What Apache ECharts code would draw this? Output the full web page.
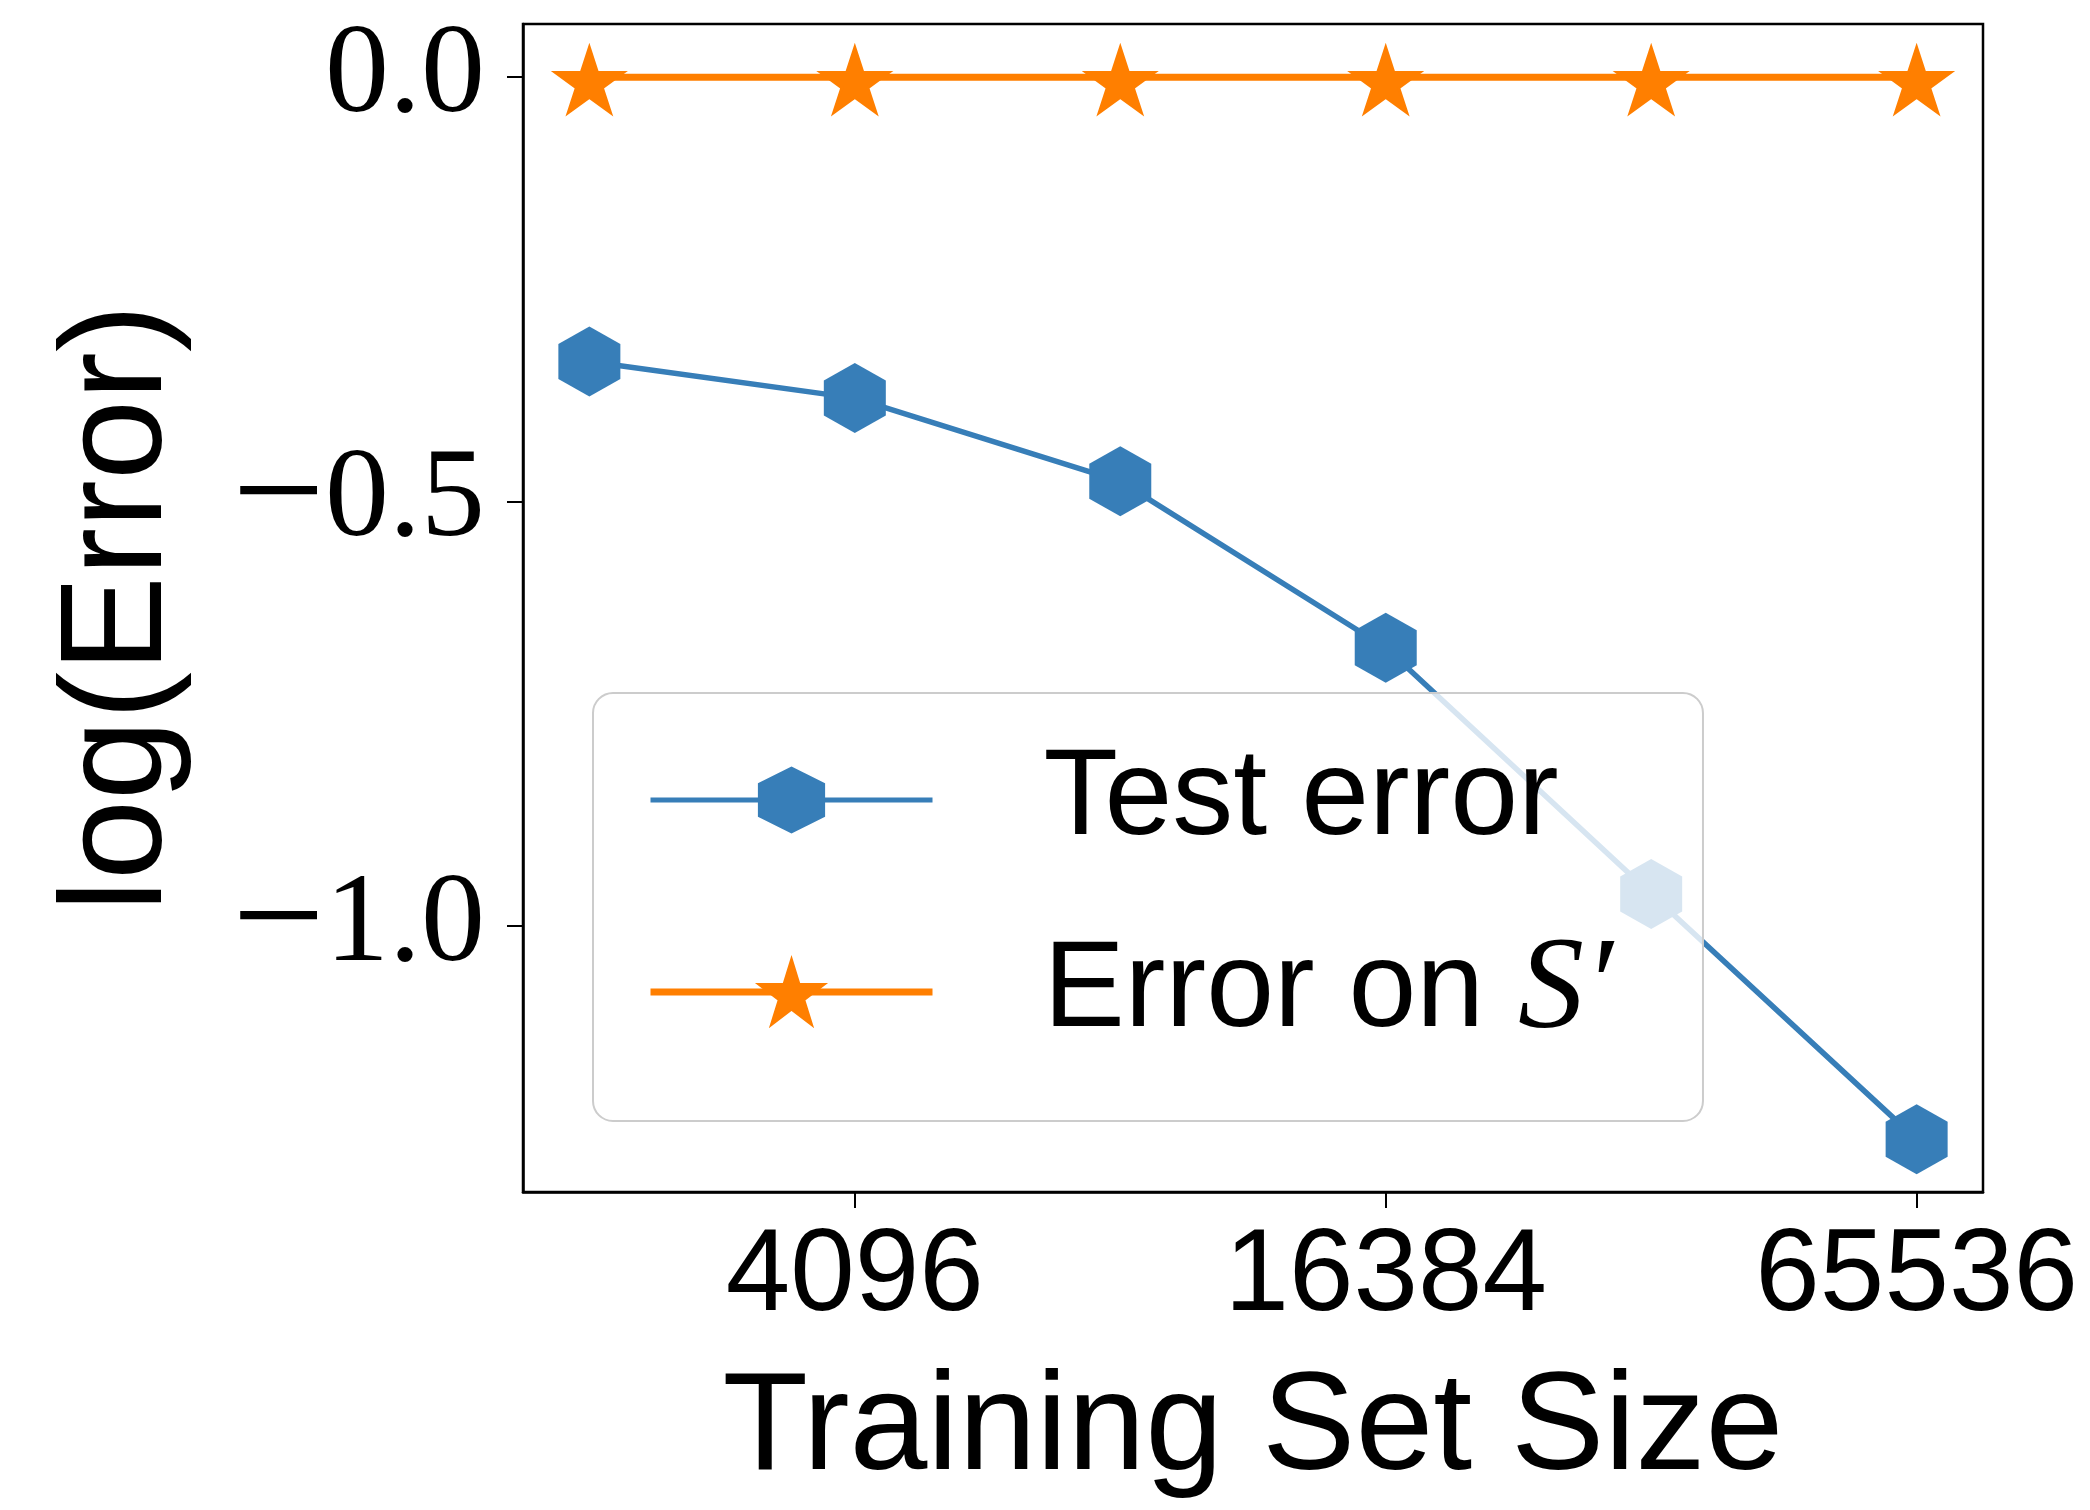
<!DOCTYPE html>
<html>
<head>
<meta charset="utf-8">
<script src="https://cdn.jsdelivr.net/npm/echarts@6/dist/echarts.min.js"></script>
<style>
    html, body { margin: 0; padding: 0; background: #fff; }
    #chart { width: 2090px; height: 1510px; }
</style>
</head>
<body>
<div id="chart"></div>
<script>
// values (y is log(Error))
const trainSizes = [2048, 4096, 8192, 16384, 32768, 65536];
const testError = [-0.335, -0.378, -0.476, -0.672, -0.962, -1.251];
const errorOnS = [0, 0, 0, 0, 0, 0];
const xTickValues = [4096, 16384, 65536];
const yTickValues = [-1.0, -0.5, 0.0];

const blue = '#377eb8';
const orange = '#ff7f00';
const sans = '"Liberation Sans", Arial, sans-serif';
const serif = '"Liberation Serif", "Times New Roman", serif';

// matplotlib style markers
const hexagon = 'path://M0,-1 L0.866,-0.5 L0.866,0.5 L0,1 L-0.866,0.5 L-0.866,-0.5 Z';
const star = 'path://M0,-1 L0.2245,-0.309 L0.951,-0.309 L0.363,0.118 L0.588,0.809 L0,0.382 L-0.588,0.809 L-0.363,0.118 L-0.951,-0.309 L-0.2245,-0.309 Z';

let chart = echarts.init(document.getElementById('chart'));

chart.setOption({
    animation: false,
    backgroundColor: '#fff',
    grid: {
        left: 523,
        right: 107,
        top: 24,
        bottom: 318,
        show: true,
        borderColor: '#000',
        borderWidth: 2.5
    },
    legend: {
        left: 593,
        top: 693,
        orient: 'vertical',
        data: [
            { name: 'Test error', lineStyle: { width: 5 } },
            { name: 'Error on S′', lineStyle: { width: 7 } }
        ],
        itemWidth: 282,
        itemHeight: 84,
        itemGap: 65,
        padding: [46, 90, 63, 54],
        backgroundColor: 'rgba(255,255,255,0.8)',
        borderColor: '#cccccc',
        borderWidth: 2,
        borderRadius: 20,
        formatter: function (name) {
            if (name === 'Error on S′') {
                return 'Error on {m|S′}';
            }
            return name;
        },
        textStyle: {
            color: '#000',
            fontFamily: sans,
            fontSize: 122,
            lineHeight: 84,
            padding: [0, 0, 0, 106],
            rich: {
                m: {
                    fontFamily: serif,
                    fontStyle: 'italic',
                    fontSize: 132,
                    lineHeight: 84,
                    color: '#000'
                }
            }
        }
    },
    xAxis: {
        type: 'log',
        logBase: 2,
        min: Math.pow(2, 10.75),
        max: Math.pow(2, 16.25),
        name: 'Training Set Size',
        nameLocation: 'middle',
        nameGap: 168,
        nameTextStyle: {
            color: '#000',
            fontFamily: sans,
            fontSize: 140
        },
        axisLine: {
            onZero: false,
            lineStyle: { color: '#000', width: 2.5 }
        },
        axisTick: {
            show: true,
            length: 16,
            customValues: xTickValues,
            lineStyle: { color: '#000', width: 2 }
        },
        axisLabel: {
            customValues: xTickValues,
            margin: 28,
            color: '#000',
            fontFamily: sans,
            fontSize: 116,
            formatter: function (v) {
                return String(Math.round(v));
            }
        },
        splitLine: { show: false },
        minorTick: { show: false }
    },
    yAxis: {
        type: 'value',
        min: -1.313,
        max: 0.0626,
        name: 'log(Error)',
        nameLocation: 'middle',
        nameGap: 330,
        nameTextStyle: {
            color: '#000',
            fontFamily: sans,
            fontSize: 144
        },
        axisLine: {
            show: true,
            onZero: false,
            lineStyle: { color: '#000', width: 2.5 }
        },
        axisTick: {
            show: true,
            length: 16,
            customValues: yTickValues,
            lineStyle: { color: '#000', width: 2 }
        },
        axisLabel: {
            customValues: yTickValues,
            margin: 38,
            color: '#000',
            fontFamily: serif,
            fontSize: 128,
            formatter: function (v) {
                return (v < 0 ? '{m|\u2212}' : '') + Math.abs(v).toFixed(1);
            },
            rich: {
                // wider minus, like the TeX one
                m: {
                    fontFamily: serif,
                    fontSize: 165,
                    color: '#000'
                }
            }
        },
        splitLine: { show: false }
    },
    series: [
        {
            name: 'Test error',
            type: 'line',
            data: trainSizes.map((s, i) => [s, testError[i]]),
            symbol: hexagon,
            symbolSize: [62, 70],
            symbolKeepAspect: false,
            showAllSymbol: true,
            lineStyle: { color: blue, width: 5.5 },
            itemStyle: { color: blue, borderWidth: 0 },
            z: 2
        },
        {
            name: 'Error on S′',
            type: 'line',
            data: trainSizes.map((s, i) => [s, errorOnS[i]]),
            symbol: star,
            symbolSize: [68, 65],
            symbolOffset: [0, 3],
            showAllSymbol: true,
            lineStyle: { color: orange, width: 7 },
            itemStyle: { color: orange, borderColor: orange, borderWidth: 3 },
            z: 3
        }
    ]
});
</script>
</body>
</html>
